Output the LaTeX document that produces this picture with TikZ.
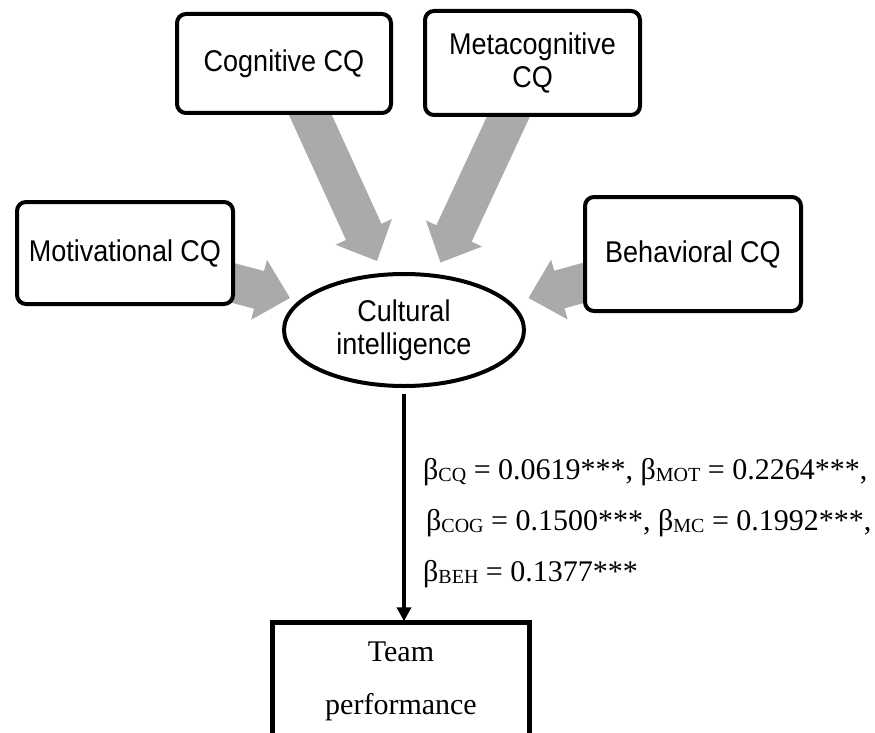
\documentclass[tikz,border=0pt]{standalone}
\usepackage{fontspec}
\setmainfont{Liberation Serif}
\newfontfamily\cqsans[FakeStretch=0.9]{Liberation Sans}
\usetikzlibrary{shapes.geometric,calc,arrows.meta}
\definecolor{arrowgray}{RGB}{170,170,170}
\pgfdeclarelayer{bg}
\pgfsetlayers{bg,main}

% geometry of the wide grey block arrows
\newcommand\arrshaft{19.5pt}
\newcommand\arrhead{31pt}
\newcommand\arrheadlen{32pt}
% block arrow from tail coordinate #1 to tip coordinate #2
\newcommand\blockarrow[2]{%
  \coordinate (ba-base) at ($(#2)!\arrheadlen!(#1)$);
  \fill[arrowgray]
    ($(#1)!\arrshaft!90:(#2)$) -- ($(ba-base)!\arrshaft!-90:(#1)$) --
    ($(ba-base)!\arrhead!-90:(#1)$) -- (#2) --
    ($(ba-base)!\arrhead!90:(#1)$) -- ($(ba-base)!\arrshaft!90:(#1)$) --
    ($(#1)!\arrshaft!-90:(#2)$) -- cycle;}
% lowered small subscript for the coefficients
\newcommand\coefsub[1]{\raisebox{-2pt}{\fontsize{20}{20}\selectfont #1}}

\begin{document}
\begin{tikzpicture}[x=1pt,y=-1pt,
  dimbox/.style={draw, line width=4pt, rounded corners=9pt, fill=white,
    inner sep=0pt, align=center, font=\cqsans\fontsize{30}{33}\selectfont},
  construct/.style={draw, ellipse, line width=4pt, fill=white, inner sep=0pt,
    minimum width=240pt, minimum height=112pt, align=center,
    font=\cqsans\fontsize{30}{33}\selectfont},
  outcome/.style={inner sep=0pt, minimum width=257pt, minimum height=118pt,
    align=center, font=\fontsize{30}{53}\selectfont},
  link/.style={line width=3.5pt, -{Triangle[width=14pt,length=14pt]}}]
\path[use as bounding box, clip] (0,0) rectangle (875,733);

% dimension boxes
\node[dimbox, minimum width=214pt, minimum height=99pt]  (cog)  at (284,63.5) {Cognitive CQ};
\node[dimbox, minimum width=215pt, minimum height=104pt] (meta) at (532.5,63) {Metacognitive\\CQ};
\node[dimbox, minimum width=216pt, minimum height=102pt] (mot)  at (125,253) {Motivational CQ};
\node[dimbox, minimum width=216pt, minimum height=114pt] (beh)  at (693,254) {Behavioral CQ};

% central construct
\node[construct] (ci) at (404,330) {Cultural\\intelligence};

% outcome box, open at the bottom
\node[outcome] (team) at (401,681.5) {Team\\performance};
\draw[line width=5pt] ($(team.south west)+(0,30)$) -- (team.north west)
  -- (team.north east) -- ($(team.south east)+(0,30)$);

% tails (hidden under the boxes) and tips of the grey arrows
\coordinate (cog-t)  at ($(cog.south)+(20,-14)$);
\coordinate (meta-t) at ($(meta.south)+(-18,-13.5)$);
\coordinate (mot-t)  at ($(mot.east)+(-19.3,25.4)$);
\coordinate (beh-t)  at ($(beh.west)+(19.3,23.7)$);
\coordinate (ci-cog)  at ($(ci.center)+(-27,-69)$);
\coordinate (ci-meta) at ($(ci.center)+(36.5,-67.5)$);
\coordinate (ci-mot)  at ($(ci.center)+(-114,-32)$);
\coordinate (ci-beh)  at ($(ci.center)+(124.5,-32)$);

\begin{pgfonlayer}{bg}
  \blockarrow{cog-t}{ci-cog}
  \blockarrow{meta-t}{ci-meta}
  \blockarrow{mot-t}{ci-mot}
  \blockarrow{beh-t}{ci-beh}
\end{pgfonlayer}

% path to team performance with its coefficients
\draw[link, shorten <=6pt, shorten >=1pt] (ci.south) -- (ci.south |- team.north);
\node[anchor=west, align=left, inner sep=0pt, font=\fontsize{30}{51}\selectfont] (coef) at (423,523)
  {β\coefsub{CQ} = 0.0619***, β\coefsub{MOT} = 0.2264***,\\
   \hspace*{3pt}β\coefsub{COG} = 0.1500***, β\coefsub{MC} = 0.1992***,\\
   β\coefsub{BEH} = 0.1377***};
\end{tikzpicture}
\end{document}
